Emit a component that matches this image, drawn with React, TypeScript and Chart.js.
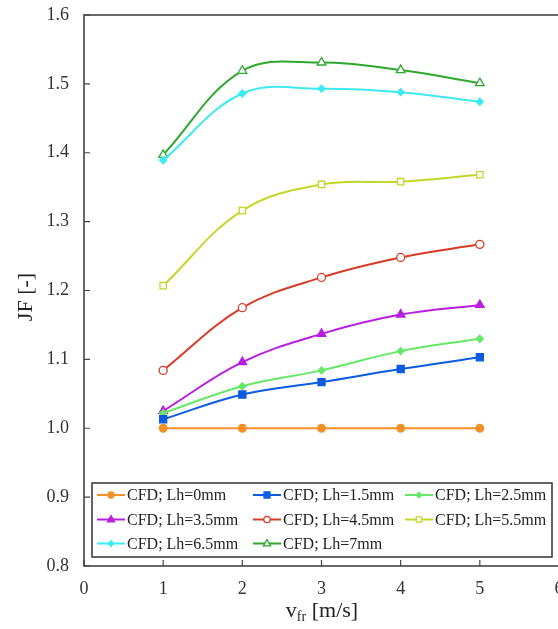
import React, { useEffect, useRef } from "react";
import { Chart, registerables } from "chart.js";

Chart.register(...registerables);

const xValues = [1, 2, 3, 4, 5];
const labels = ["CFD; Lh=0mm", "CFD; Lh=1.5mm", "CFD; Lh=2.5mm", "CFD; Lh=3.5mm", "CFD; Lh=4.5mm", "CFD; Lh=5.5mm", "CFD; Lh=6.5mm", "CFD; Lh=7mm"];
const lh0 = [1.0, 1.0, 1.0, 1.0, 1.0];
const lh15 = [1.013, 1.049, 1.067, 1.086, 1.103];
const lh25 = [1.022, 1.061, 1.084, 1.112, 1.13];
const lh35 = [1.025, 1.096, 1.137, 1.165, 1.179];
const lh45 = [1.084, 1.175, 1.219, 1.248, 1.267];
const lh55 = [1.207, 1.316, 1.354, 1.358, 1.368];
const lh65 = [1.389, 1.486, 1.493, 1.488, 1.474];
const lh7 = [1.397, 1.519, 1.531, 1.52, 1.501];
const seriesValues = [lh0, lh15, lh25, lh35, lh45, lh55, lh65, lh7];
const colors = ["#F39027", "#0D5BE0", "#66E866", "#B81FE0", "#D93A26", "#C5D62A", "#3CEAF0", "#2DA82D"];
const shapes = ["circle", "rect", "rectRot", "triangle", "circle", "rect", "rectRot", "triangle"];
const filled = [true, true, true, true, false, false, true, false];
const radii = [3.8, 5, 3.5, 5, 4, 4.5, 3.5, 5];
const xTicks = [0, 1, 2, 3, 4, 5, 6];
const yTicks = [0.8, 0.9, 1.0, 1.1, 1.2, 1.3, 1.4, 1.5, 1.6];

const SERIF = "'Liberation Serif', 'Times New Roman', serif";
const FRAME = "#444444";

function drawMarker(ctx: CanvasRenderingContext2D, shape: string, x: number, y: number, r: number, color: string, fill: boolean) {
  ctx.save();
  ctx.beginPath();
  if (shape === "circle") {
    ctx.arc(x, y, r, 0, Math.PI * 2);
  } else if (shape === "rect") {
    ctx.rect(x - r * 0.75, y - r * 0.75, r * 1.5, r * 1.5);
  } else if (shape === "rectRot") {
    ctx.moveTo(x, y - r);
    ctx.lineTo(x + r, y);
    ctx.lineTo(x, y + r);
    ctx.lineTo(x - r, y);
    ctx.closePath();
  } else {
    ctx.moveTo(x, y - r);
    ctx.lineTo(x + r * 0.9, y + r * 0.6);
    ctx.lineTo(x - r * 0.9, y + r * 0.6);
    ctx.closePath();
  }
  ctx.lineWidth = 1.3;
  ctx.strokeStyle = color;
  ctx.fillStyle = fill ? color : "#ffffff";
  ctx.fill();
  ctx.stroke();
  ctx.restore();
}

const decorPlugin = {
  id: "decor",
  afterDraw(chart: any) {
    const ctx: CanvasRenderingContext2D = chart.ctx;
    const a = chart.chartArea;
    const xs = chart.scales.x;
    const ys = chart.scales.y;
    ctx.save();
    // frame
    ctx.strokeStyle = FRAME;
    ctx.lineWidth = 1.6;
    ctx.strokeRect(a.left, a.top, a.right - a.left, a.bottom - a.top);
    // inner ticks
    ctx.lineWidth = 1.2;
    ctx.beginPath();
    yTicks.forEach((v) => {
      const py = ys.getPixelForValue(v);
      ctx.moveTo(a.left, py);
      ctx.lineTo(a.left + 6, py);
    });
    xTicks.forEach((v) => {
      const px = xs.getPixelForValue(v);
      ctx.moveTo(px, a.bottom);
      ctx.lineTo(px, a.bottom - 6);
    });
    ctx.stroke();

    // legend box
    const lx = 92, ly = 483, lw = 460, lh = 74;
    ctx.fillStyle = "#ffffff";
    ctx.fillRect(lx, ly, lw, lh);
    ctx.strokeStyle = "#333333";
    ctx.lineWidth = 1.5;
    ctx.strokeRect(lx, ly, lw, lh);
    const colX = [97, 253, 405];
    const rowY = [495, 519.5, 543.5];
    ctx.font = "16px " + SERIF;
    ctx.textBaseline = "middle";
    ctx.textAlign = "left";
    labels.forEach((lab, i) => {
      const cx = colX[i % 3];
      const cy = rowY[Math.floor(i / 3)];
      ctx.strokeStyle = colors[i];
      ctx.lineWidth = 2;
      ctx.beginPath();
      ctx.moveTo(cx, cy);
      ctx.lineTo(cx + 28, cy);
      ctx.stroke();
      drawMarker(ctx, shapes[i], cx + 14, cy, radii[i] * 0.8, colors[i], filled[i]);
      ctx.fillStyle = "#222222";
      ctx.fillText(lab, cx + 30, cy + 1);
    });

    // y title
    ctx.fillStyle = "#222222";
    ctx.font = "22px " + SERIF;
    ctx.save();
    ctx.translate(26, 297);
    ctx.rotate(-Math.PI / 2);
    ctx.textAlign = "center";
    ctx.textBaseline = "middle";
    ctx.fillText("JF [-]", 0, 0);
    ctx.restore();

    // x title with subscript
    ctx.textBaseline = "alphabetic";
    ctx.textAlign = "left";
    const big = "22px " + SERIF;
    const small = "14px " + SERIF;
    ctx.font = big;
    const w1 = ctx.measureText("v").width;
    ctx.font = small;
    const w2 = ctx.measureText("fr").width;
    ctx.font = big;
    const w3 = ctx.measureText(" [m/s]").width;
    const total = w1 + w2 + w3;
    let sx = 322 - total / 2;
    const base = 617;
    ctx.fillText("v", sx, base);
    sx += w1;
    ctx.font = small;
    ctx.fillText("fr", sx, base + 4);
    sx += w2;
    ctx.font = big;
    ctx.fillText(" [m/s]", sx, base);
    ctx.restore();
  },
};

export default function App() {
  const ref = useRef<HTMLCanvasElement>(null);
  useEffect(() => {
    if (!ref.current) return;
    const datasets = seriesValues.map((vals, i) => ({
      label: labels[i],
      data: vals.map((v, j) => ({ x: xValues[j], y: v })),
      borderColor: colors[i],
      backgroundColor: filled[i] ? colors[i] : "#ffffff",
      pointBorderColor: colors[i],
      pointBackgroundColor: filled[i] ? colors[i] : "#ffffff",
      pointStyle: shapes[i],
      pointRadius: radii[i],
      pointBorderWidth: 1.3,
      borderWidth: 2,
      tension: 0.38,
      fill: false,
    }));
    const chart = new Chart(ref.current, {
      type: "line",
      data: { datasets },
      options: {
        animation: false,
        responsive: false,
        layout: { padding: { left: 0, top: 15, right: 7, bottom: 0 } },
        plugins: { legend: { display: false }, tooltip: { enabled: false } },
        scales: {
          x: {
            type: "linear",
            min: 0,
            max: 6,
            afterFit: (s: any) => { s.height = 63; s.paddingLeft = 0; s.paddingRight = 0; },
            afterBuildTicks: (s: any) => { s.ticks = xTicks.map((v) => ({ value: v })); },
            grid: { display: false, drawTicks: false },
            border: { display: false },
            ticks: {
              padding: 12,
              color: "#333333",
              font: { family: SERIF, size: 18 },
              callback: (v: any) => String(v),
            },
          },
          y: {
            type: "linear",
            min: 0.8,
            max: 1.6,
            afterFit: (s: any) => { s.width = 84; s.paddingTop = 0; s.paddingBottom = 0; },
            afterBuildTicks: (s: any) => { s.ticks = yTicks.map((v) => ({ value: v })); },
            grid: { display: false, drawTicks: false },
            border: { display: false },
            ticks: {
              padding: 15,
              color: "#333333",
              font: { family: SERIF, size: 18 },
              callback: (v: any) => Number(v).toFixed(1),
            },
          },
        },
      },
      plugins: [decorPlugin],
    } as any);
    return () => chart.destroy();
  }, []);
  return (
    <div style={{ position: "fixed", left: 0, top: 0, width: 558, height: 629, overflow: "hidden", background: "#fff" }}>
      <canvas ref={ref} width={566} height={629} style={{ width: 566, height: 629, display: "block" }} />
    </div>
  );
}
